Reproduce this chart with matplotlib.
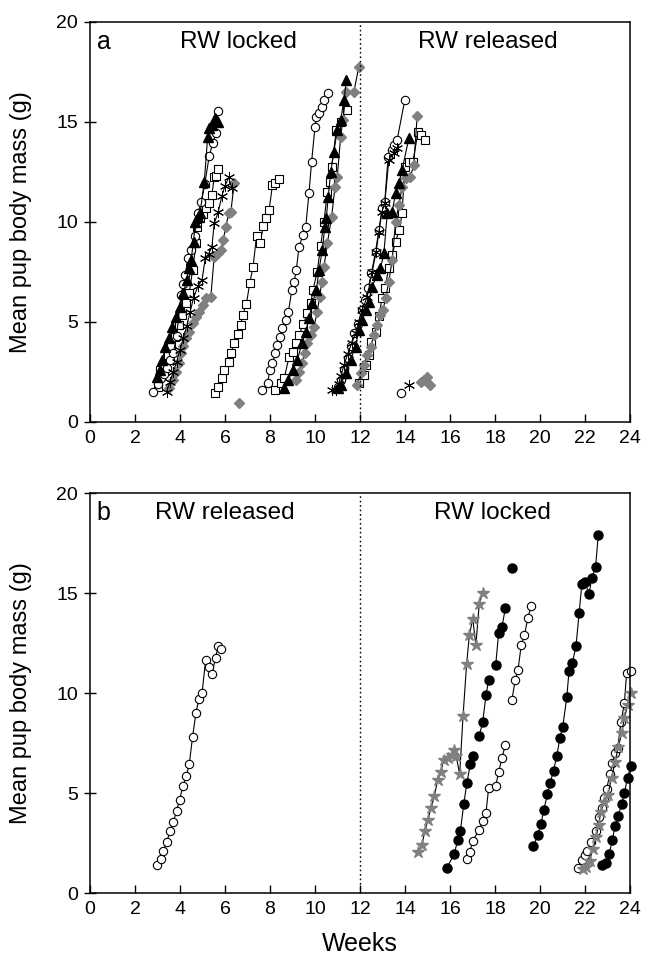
import numpy as np
import matplotlib
matplotlib.use("Agg")
import matplotlib.pyplot as plt

plt.rcParams['font.family'] = ['Liberation Sans', 'DejaVu Sans']

nan = np.nan

# ---------------- panel a (RW locked until week 12, released after) ----------------
# groups of litters are separated by nan so the lines break between them
a_circle_w = [2.82, 3.0, 3.15, 3.3, 3.41, 3.55, 3.70, 3.85, 4.04, 4.15, 4.24, 4.34, 4.5, 4.65, 4.78,
              4.95, 5.1, 5.3, 5.45, 5.60, 5.71, nan,
              7.66, 7.89, 7.99, 8.11, 8.23, 8.33, 8.43, 8.55, 8.70, 8.82, 8.97, 9.07, 9.17, 9.29,
              9.47, 9.59, 9.73, 9.85, 10.00, 10.06, 10.18, 10.30, 10.40, 10.59, nan,
              11.0, 11.15, 11.3, 11.45, 11.6, 11.73, 11.9, 12.1, 12.23, 12.36, 12.51, 12.69, 12.84,
              12.98, 13.1, 13.25, 13.40, 13.50, 13.65, 13.99, nan,
              13.84]
a_circle_m = [1.52, 1.9, 2.2, 2.4, 2.68, 3.1, 3.43, 4.3, 6.35, 6.9, 7.35, 8.18, 8.6, 9.3, 10.43,
              11.0, 11.9, 13.3, 13.93, 14.43, 15.57, nan,
              1.60, 1.93, 2.60, 2.93, 3.43, 3.85, 4.27, 4.68, 5.10, 5.52, 6.60, 7.02, 7.60, 8.77,
              9.35, 9.77, 11.43, 13.02, 14.77, 15.27, 15.43, 15.73, 16.10, 16.43, nan,
              1.75, 2.1, 2.6, 3.2, 3.8, 4.43, 4.9, 5.6, 6.1, 6.68, 7.43, 8.52, 9.60,
              10.68, 11.0, 13.27, 13.60, 13.85, 14.10, 16.10, nan,
              1.47]

a_tri_w = [2.96, 3.1, 3.22, 3.35, 3.50, 3.64, 3.82, 4.00, 4.15, 4.29, 4.40, 4.49, 4.60, 4.68, 4.78,
           4.89, 5.08, 5.23, 5.30, 5.42, 5.55, 5.67, nan,
           8.63, 8.82, 9.00, 9.22, 9.41, 9.59, 9.73, 9.88, 10.06, 10.18, 10.32, 10.44, 10.50, 10.59,
           10.70, 10.84, 10.99, 11.14, 11.29, 11.39, nan,
           11.0, 11.14, 11.36, 11.58, 11.80, 11.95, 12.10, 12.25, 12.39, 12.54, 12.76, 12.91, 13.06,
           13.21, 13.43, 13.58, 13.73, 13.87, 14.17]
a_tri_m = [2.27, 2.6, 3.1, 3.77, 4.18, 4.77, 5.27, 5.77, 6.43, 7.10, 7.7, 8.10, 9.0, 10.02, 10.27,
           10.43, 12.02, 14.27, 14.7, 14.85, 15.2, 15.02, nan,
           1.68, 2.10, 2.60, 3.10, 3.93, 4.52, 5.18, 5.93, 6.60, 7.60, 8.60, 9.77, 10.18, 11.27,
           12.52, 13.52, 14.60, 15.10, 16.10, 17.10, nan,
           1.7, 1.85, 2.43, 3.10, 3.77, 4.60, 5.10, 5.60, 6.02, 6.77, 7.35, 7.68, 8.43,
           10.43, 10.52, 11.43, 11.93, 12.60, 14.18]

a_square_w = [3.01, 3.11, 3.28, 3.45, 3.62, 3.79, 3.94, 4.09, 4.27, 4.41, 4.56, 4.71, 4.74, 4.89,
              5.02, 5.15, 5.30, 5.42, 5.52, 5.62, 5.71, nan,
              5.57, 5.71, 5.86, 5.96, 6.16, 6.26, 6.41, 6.56, 6.70, 6.78, 6.95, 7.10, 7.25, 7.40,
              7.55, 7.71, 7.84, 7.96, 8.11, 8.23, 8.40, nan,
              8.23, 8.48, 8.63, 8.85, 9.00, 9.14, 9.29, 9.48, 9.66, 9.81, 9.91, 10.10, 10.25, 10.40,
              10.55, 10.65, 10.74, 10.95, 11.14, 11.43, nan,
              11.95, 12.17, 12.28, 12.39, 12.51, 12.69, 12.84, 12.98, 13.10, 13.28, 13.43, 13.58,
              13.75, 13.87, 13.99, 14.17, 14.35, 14.58, 14.73, 14.88]
a_square_m = [1.77, 2.60, 2.9, 3.35, 3.8, 4.27, 4.85, 5.35, 5.93, 6.43, 7.60, 8.93, 9.77, 10.18,
              10.4, 10.68, 10.93, 11.35, 12.27, 12.3, 12.63, nan,
              1.43, 1.77, 2.18, 2.60, 3.02, 3.43, 3.93, 4.40, 4.85, 5.35, 5.90, 6.93, 7.77, 9.30,
              8.93, 9.80, 10.18, 10.6, 11.85, 11.93, 12.13, nan,
              1.60, 1.93, 2.18, 3.27, 3.52, 3.93, 4.35, 4.9, 5.43, 5.93, 6.60, 7.52, 8.8, 10.02,
              11.52, 12.02, 12.77, 14.60, 15.02, 15.6, nan,
              1.93, 2.35, 2.85, 3.35, 4.02, 4.52, 5.3, 6.18, 6.68, 7.68, 8.35, 9.02,
              9.6, 10.43, 12.77, 13.02, 13.0, 14.52, 14.35, 14.10]

a_ast_w = [3.41, 3.55, 3.7, 3.85, 4.0, 4.15, 4.3, 4.45, 4.6, 4.8, 4.98, 5.12, 5.27, 5.42, 5.52,
           5.7, 5.86, 6.0, 6.16, 6.31, nan,
           10.77, 10.92, 11.05, 11.15, 11.29, 11.45, 11.63, 11.80, 11.95, 12.10, 12.32, 12.54,
           12.72, 12.84, 12.98, 13.10, 13.28, 13.50, 13.65, nan,
           14.17]
a_ast_m = [1.52, 2.0, 2.5, 3.0, 3.6, 4.2, 4.8, 5.5, 6.2, 6.8, 7.1, 8.18, 8.4, 8.77, 9.93,
           10.5, 11.3, 11.8, 12.23, 11.68, nan,
           1.6, 1.6, 1.9, 2.3, 2.85, 3.4, 3.93, 4.43, 5.0, 5.60, 6.27, 7.52,
           8.52, 9.52, 10.52, 10.93, 13.10, 13.43, 13.68, nan,
           1.85]

a_dia_w = [3.53, 3.67, 3.82, 3.94, 4.04, 4.15, 4.27, 4.41, 4.56, 4.71, 4.86, 5.0, 5.15, 5.37, 5.52,
           5.67, 5.82, 5.92, 6.04, 6.16, 6.26, 6.41, nan,
           6.60, nan,
           9.17, 9.29, 9.41, 9.56, 9.66, 9.81, 9.96, 10.10, 10.21, 10.30, 10.40, 10.55, 10.74, 10.89,
           10.99, 11.14, 11.24, 11.39, 11.73, 11.95, nan,
           11.88, 12.03, 12.17, 12.32, 12.47, 12.62, 12.76, 12.91, 13.02, 13.14, 13.28, 13.43, 13.58,
           13.73, 13.87, 14.05, 14.24, 14.39, 14.54, nan,
           14.69, 14.83, 14.98, 15.13]
a_dia_m = [1.68, 2.10, 2.52, 2.93, 3.43, 3.8, 4.18, 4.52, 4.93, 5.27, 5.52, 5.85, 6.18, 6.27, 8.27,
           8.43, 8.60, 9.10, 9.77, 10.43, 10.52, 11.93, nan,
           0.97, nan,
           2.10, 2.52, 2.93, 3.43, 3.93, 4.35, 4.77, 5.52, 6.27, 7.0, 7.77, 8.93, 10.27, 11.77,
           12.27, 14.27, 15.10, 16.52, 16.52, 17.77, nan,
           1.85, 2.43, 2.85, 3.35, 3.77, 4.35, 4.85, 5.35, 5.60, 6.18, 7.02, 8.10, 10.02,
           10.85, 11.77, 12.18, 12.27, 12.85, 15.30, nan,
           2.02, 2.10, 2.27, 1.85]

# ---------------- panel b (RW released until week 12, locked after) ----------------
b_circle_w = [2.98, 3.14, 3.26, 3.41, 3.56, 3.70, 3.85, 3.98, 4.13, 4.28, 4.41, 4.56, 4.71, 4.84,
              4.98, 5.14, 5.29, 5.42, 5.58, 5.70, 5.84, nan,
              16.74, 16.88, 17.01, 17.30, 17.45, 17.60, 17.72, 18.03, 18.16, 18.31, 18.46, nan,
              18.75, 18.90, 19.02, 19.17, 19.31, 19.46, 19.61, nan,
              21.71, 21.87, 22.0, 22.11, 22.27, 22.47, 22.63, 22.74, 22.86, 22.96, 23.11, 23.22,
              23.33, 23.45, 23.60, 23.75, 23.85, 24.03]
b_circle_m = [1.40, 1.70, 2.11, 2.55, 3.09, 3.54, 4.10, 4.65, 5.35, 5.85, 6.43, 7.82, 9.01, 9.69,
              9.98, 11.67, 11.31, 10.96, 11.76, 12.37, 12.18, nan,
              1.70, 2.05, 2.61, 3.16, 3.58, 4.02, 5.27, 5.35, 6.03, 6.77, 7.40, nan,
              9.64, 10.67, 11.14, 12.42, 12.88, 13.77, 14.33, nan,
              1.27, 1.63, 1.9, 2.11, 2.56, 3.11, 3.78, 4.27, 4.77, 5.20, 5.94, 6.48,
              6.98, 7.23, 8.56, 9.48, 11.02, 11.09]

b_dot_w = [15.86, 16.19, 16.34, 16.46, 16.61, 16.75, 16.90, 17.02, nan,
           17.30, 17.45, 17.60, 17.72, nan,
           18.03, 18.16, 18.31, 18.46, nan,
           18.75, nan,
           19.71, 19.90, 20.04, 20.17, 20.33, 20.45, 20.60, 20.75, 20.88, 21.01, 21.19, 21.29,
           21.44, 21.60, 21.74, 21.86, 22.00, 22.18, 22.30, 22.47, 22.59, nan,
           22.75, 22.94, 23.07, 23.22, 23.33, 23.48, 23.63, 23.75, 23.89, 24.05]
b_dot_m = [1.27, 1.94, 2.65, 3.08, 4.44, 5.49, 6.43, 6.85, nan,
           7.86, 8.53, 9.89, 10.67, nan,
           11.39, 12.98, 13.30, 14.25, nan,
           16.26, nan,
           2.33, 2.91, 3.44, 4.16, 4.94, 5.49, 6.12, 6.87, 7.73, 8.31, 9.78, 11.11,
           11.52, 12.35, 14.01, 15.46, 15.55, 14.95, 15.75, 16.29, 17.92, nan,
           1.40, 1.52, 1.94, 2.66, 3.33, 3.87, 4.44, 4.99, 5.77, 6.37]

b_star_w = [14.59, 14.75, 14.88, 15.02, 15.16, 15.31, 15.45, 15.59, 15.72, 15.91, 16.09, 16.16,
            16.27, 16.43, 16.58, 16.74, 16.86, 17.01, 17.15, 17.30, 17.45, nan,
            21.9, 22.05, 22.2, 22.35, 22.5, 22.6, 22.71, 22.86, 23.01, 23.18, 23.33, 23.48, 23.63,
            23.75, 23.89, 24.04]
b_star_m = [2.05, 2.41, 3.08, 3.66, 4.27, 4.87, 5.65, 6.07, 6.65, 6.77, 6.90, 7.15,
            6.87, 5.94, 8.86, 11.47, 12.88, 13.72, 12.38, 14.46, 15.01, nan,
            1.2, 1.3, 1.6, 2.2, 2.8, 3.4, 4.07, 4.57, 4.90, 5.74, 6.53, 7.3, 7.98,
            8.73, 9.39, 9.98]

grey = '#808080'
line_kw = dict(color='black', lw=0.8, clip_on=False)
open_kw = dict(mfc='white', mec='black', mew=0.8)

fig = plt.figure(figsize=(6.45, 9.65), dpi=100)
ax_a = fig.add_axes([90 / 645, 1 - 422 / 965, 540 / 645, 400 / 965])
ax_b = fig.add_axes([90 / 645, 1 - 893 / 965, 540 / 645, 400 / 965])

# panel a
ax_a.plot(a_square_w, a_square_m, marker='s', ms=5.2, **open_kw, **line_kw)
ax_a.plot(a_circle_w, a_circle_m, marker='o', ms=6, **open_kw, **line_kw)
ax_a.plot(a_dia_w, a_dia_m, marker='D', ms=5.2, mfc=grey, mec=grey, **line_kw)
ax_a.plot(a_ast_w, a_ast_m, marker=(6, 2, 0), ms=8, mec='black', mew=0.7, **line_kw)
ax_a.plot(a_tri_w, a_tri_m, marker='^', ms=6.5, mfc='black', mec='black', **line_kw)

# panel b
ax_b.plot(b_circle_w, b_circle_m, marker='o', ms=6, **open_kw, **line_kw)
ax_b.plot(b_dot_w, b_dot_m, marker='o', ms=6.5, mfc='black', mec='black', **line_kw)
ax_b.plot(b_star_w, b_star_m, marker='*', ms=9, mfc=grey, mec=grey, **line_kw)

for ax in (ax_a, ax_b):
    ax.set_xlim(0, 24)
    ax.set_ylim(0, 20)
    ax.set_xticks(range(0, 25, 2))
    ax.set_yticks(range(0, 21, 5))
    ax.tick_params(axis='x', direction='in', length=6, width=1, labelsize=14, pad=6)
    ax.tick_params(axis='y', direction='inout', length=9, width=1, labelsize=14, pad=4)
    for sp in ax.spines.values():
        sp.set_linewidth(1.1)
    ax.axvline(12, color='black', lw=1, ls=(0, (1.2, 2)))
    ax.set_ylabel('Mean pup body mass (g)', fontsize=17)
    ax.yaxis.set_label_coords(-0.107, 0.5)

ax_a.text(0.3, 19.0, 'a', fontsize=18, va='center', ha='left')
ax_a.text(6.6, 19.0, 'RW locked', fontsize=17.5, va='center', ha='center')
ax_a.text(17.7, 19.0, 'RW released', fontsize=17.5, va='center', ha='center')

ax_b.text(0.3, 19.0, 'b', fontsize=18, va='center', ha='left')
ax_b.text(6.0, 19.0, 'RW released', fontsize=17.5, va='center', ha='center')
ax_b.text(17.9, 19.0, 'RW locked', fontsize=17.5, va='center', ha='center')

ax_b.set_xlabel('Weeks', fontsize=18)
ax_b.xaxis.set_label_coords(0.5, -0.098)

fig.savefig('out.png', dpi=100)
